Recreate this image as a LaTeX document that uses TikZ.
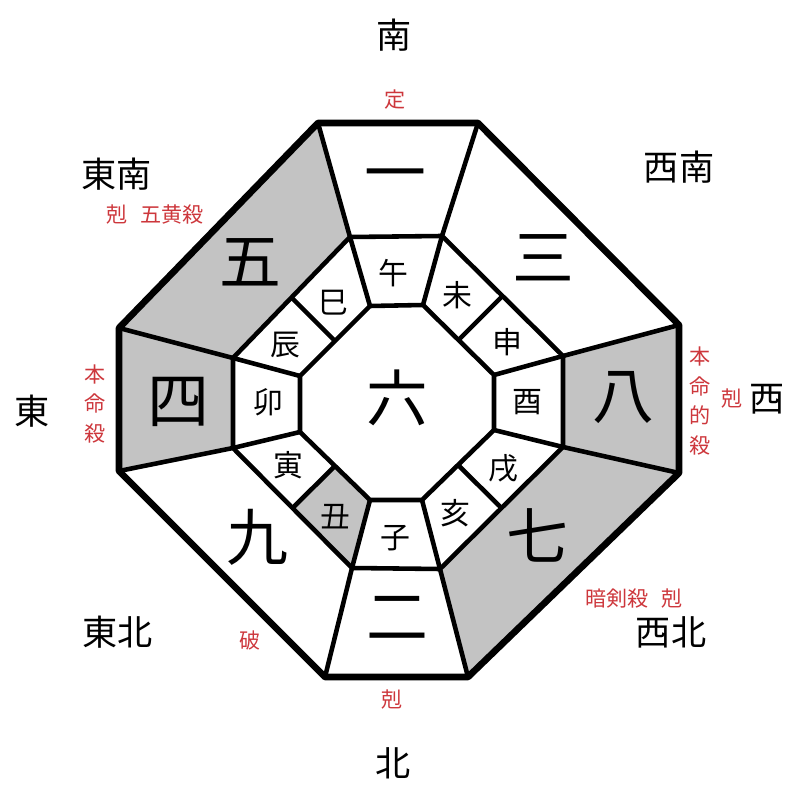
\documentclass[tikz,border=0pt]{standalone}
\usepackage{fontspec}
\setmainfont{Noto Sans CJK JP}
\usepackage{tikz}
\usetikzlibrary{calc}
\definecolor{kred}{RGB}{205,55,60}
\definecolor{boxgray}{RGB}{195,195,195}

\tikzset{
    num/.style={font=\fontsize{17.6}{18}\selectfont},
    zod/.style={font=\fontsize{8.5}{9}\selectfont},
    dir/.style={font=\fontsize{10}{11}\selectfont},
    note/.style={text=kred, font=\fontsize{6}{8.4}\selectfont, align=center, inner sep=0pt},
}

\begin{document}
\begin{tikzpicture}
    \useasboundingbox (-4,-4) rectangle (4,4);
    % outer octagon
    \coordinate (O1) at (-0.82,2.77);
    \coordinate (O2) at (0.78,2.77);
    \coordinate (O3) at (2.79,0.75);
    \coordinate (O4) at (2.79,-0.73);
    \coordinate (O5) at (0.68,-2.77);
    \coordinate (O6) at (-0.75,-2.77);
    \coordinate (O7) at (-2.81,-0.71);
    \coordinate (O8) at (-2.81,0.72);
    % middle ring
    \coordinate (M1) at (-0.50,1.63);
    \coordinate (M2) at (0.42,1.64);
    \coordinate (M3) at (1.63,0.44);
    \coordinate (M4) at (1.63,-0.47);
    \coordinate (M5) at (0.40,-1.69);
    \coordinate (M6) at (-0.48,-1.68);
    \coordinate (M7) at (-1.67,-0.48);
    \coordinate (M8) at (-1.67,0.42);
    % inner octagon
    \coordinate (I1) at (-0.30,0.94);
    \coordinate (I2) at (0.23,0.95);
    \coordinate (I3) at (0.94,0.25);
    \coordinate (I4) at (0.94,-0.30);
    \coordinate (I5) at (0.22,-1.00);
    \coordinate (I6) at (-0.30,-1.00);
    \coordinate (I7) at (-1.00,-0.32);
    \coordinate (I8) at (-1.00,0.24);

    \fill[boxgray] (O8) -- (O1) -- (M1) -- (M8) -- cycle;
    \fill[boxgray] (O7) -- (O8) -- (M8) -- (M7) -- cycle;
    \fill[boxgray] (O3) -- (O4) -- (M4) -- (M3) -- cycle;
    \fill[boxgray] (O4) -- (O5) -- (M5) -- (M4) -- cycle;
    \fill[boxgray] (I6) -- (M6) -- ($(M6)!0.5!(M7)$) -- ($(I6)!0.5!(I7)$) -- cycle;

    \draw[line width=1.3pt] (M1) -- (M2) -- (M3) -- (M4) -- (M5) -- (M6) -- (M7) -- (M8) -- cycle;
    \draw[line width=1.3pt] (I1) -- (I2) -- (I3) -- (I4) -- (I5) -- (I6) -- (I7) -- (I8) -- cycle;

    \draw[line width=1.3pt] (O1) -- (M1) -- (I1);
    \draw[line width=1.3pt] (O2) -- (M2) -- (I2);
    \draw[line width=1.3pt] (O3) -- (M3) -- (I3);
    \draw[line width=1.3pt] (O4) -- (M4) -- (I4);
    \draw[line width=1.3pt] (O5) -- (M5) -- (I5);
    \draw[line width=1.3pt] (O6) -- (M6) -- (I6);
    \draw[line width=1.3pt] (O7) -- (M7) -- (I7);
    \draw[line width=1.3pt] (O8) -- (M8) -- (I8);

    \draw[line width=1.3pt] ($(M8)!0.5!(M1)$) -- ($(I8)!0.5!(I1)$);
    \draw[line width=1.3pt] ($(M2)!0.5!(M3)$) -- ($(I2)!0.5!(I3)$);
    \draw[line width=1.3pt] ($(M4)!0.5!(M5)$) -- ($(I4)!0.5!(I5)$);
    \draw[line width=1.3pt] ($(M6)!0.5!(M7)$) -- ($(I6)!0.5!(I7)$);

    \draw[line width=1.9pt, line join=round] (O1) -- (O2) -- (O3) -- (O4) -- (O5) -- (O6) -- (O7) -- (O8) -- cycle;

    % stars
    \node[num] (n1) at (-0.05,2.18) {一};
    \node[num] (n3) at (1.43,1.42) {三};
    \node[num] (n5) at (-1.50,1.38) {五};
    \node[num] (n4) at (-2.22,-0.02) {四};
    \node[num] (n8) at (2.23,0.02) {八};
    \node[num] (n7) at (1.37,-1.35) {七};
    \node[num] (n2) at (-0.03,-2.18) {二};
    \node[num] (n9) at (-1.43,-1.37) {九};
    \node[num] (n6) at (-0.03,0.02) {六};

    % branches
    \node[zod] (uma) at (-0.07,1.27) {午};
    \node[zod] (hitsuji) at (0.57,1.05) {未};
    \node[zod] (saru) at (1.07,0.58) {申};
    \node[zod] (tori) at (1.27,-0.02) {酉};
    \node[zod] (inu) at (1.03,-0.68) {戌};
    \node[zod] (i) at (0.55,-1.13) {亥};
    \node[zod] (ne) at (-0.05,-1.38) {子};
    \node[zod] (ushi) at (-0.65,-1.17) {丑};
    \node[zod] (tora) at (-1.12,-0.65) {寅};
    \node[zod] (u) at (-1.32,-0.02) {卯};
    \node[zod] (tatsu) at (-1.15,0.55) {辰};
    \node[zod] (mi) at (-0.67,0.97) {巳};

    % directions
    \node[dir] (S) at (-0.06,3.65) {南};
    \node[dir] (SE) at (-2.83,2.26) {東南};
    \node[dir] (SW) at (2.79,2.33) {西南};
    \node[dir] (E) at (-3.68,-0.11) {東};
    \node[dir] (W) at (3.67,0.01) {西};
    \node[dir] (NE) at (-2.82,-2.32) {東北};
    \node[dir] (NW) at (2.71,-2.32) {西北};
    \node[dir] (N) at (-0.07,-3.63) {北};

    % notes
    \node[note] (tS) at (-0.05,3.00) {定};
    \node[note] (tSE) at (-2.45,1.85) {剋\hspace{0.6em}五黄殺};
    \node[note] (tE) at (-3.05,-0.04) {本\\命\\殺};
    \node[note] (tW) at (3.00,-0.01) {本\\命\\的\\殺};
    \node[note] (tW2) at (3.32,0.01) {剋};
    \node[note] (tNE) at (-1.50,-2.40) {破};
    \node[note] (tN) at (-0.08,-3.00) {剋};
    \node[note] (tNW) at (2.34,-1.99) {暗剣殺\hspace{0.6em}剋};
\end{tikzpicture}
\end{document}
